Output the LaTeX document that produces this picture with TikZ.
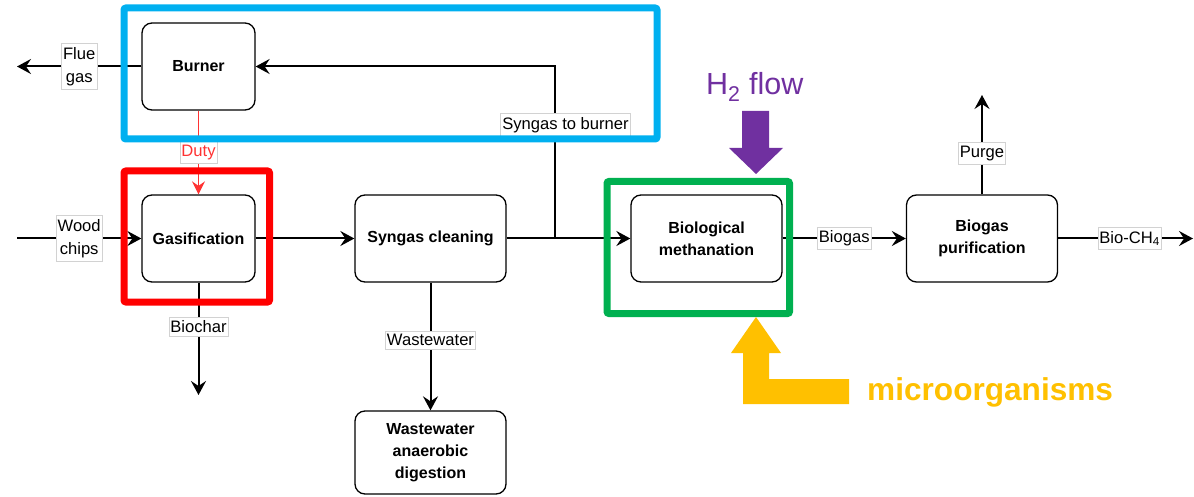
\documentclass[tikz,border=0pt]{standalone}
\usepackage{fontspec}
\setmainfont{Liberation Sans}
\usetikzlibrary{arrows.meta}
\definecolor{skyframe}{HTML}{00B0F0}
\definecolor{redframe}{HTML}{FF0000}
\definecolor{greenframe}{HTML}{00B050}
\definecolor{hpurple}{HTML}{7030A0}
\definecolor{microamber}{HTML}{FFC000}
\definecolor{dutyred}{HTML}{FF3333}

\begin{document}
\begin{tikzpicture}[x=1pt,y=-1pt,
    unit/.style={draw,rounded corners=10pt,line width=1.3pt,minimum width=113pt,minimum height=87pt,align=center,font=\fontsize{16}{22}\selectfont\bfseries},
    wideunit/.style={unit,minimum width=151pt},
    flow/.style={line width=2pt,-{Stealth[length=14pt,width=15pt,inset=5pt]}},
    duty/.style={line width=1.4pt,dutyred,-{Stealth[length=13pt,width=13pt,inset=4.5pt]}},
    lbl/.style={fill=white,draw=gray!35,line width=0.6pt,inner xsep=1.5pt,inner ysep=3.5pt,align=center,text=black,font=\fontsize{16.6}{23}\selectfont},
    frame/.style={line width=7pt,rounded corners=2pt}]
    \useasboundingbox (0,0) rectangle (1194,497);
    % process units
    \node[unit] (burner) at (198.5,66.5) {Burner};
    \node[unit] (gasif) at (198.5,238.5) {Gasification};
    \node[wideunit] (cleaning) at (430.5,238.5) {Syngas cleaning};
    \node[wideunit,minimum height=83pt] (wwad) at (430.5,452.5) {Wastewater\\anaerobic\\digestion};
    \node[wideunit] (biometh) at (706.5,238.5) {Biological\\methanation};
    \node[wideunit] (biopurif) at (982,238.5) {Biogas\\purification};
    % free ends
    \coordinate (fluegas) at (17,66.5);
    \coordinate (woodin) at (17,238.5);
    \coordinate (biochar) at (198.5,395);
    \coordinate (junction) at (555,238.5);
    \coordinate (turn) at (555,66.5);
    \coordinate (purge) at (982,95);
    \coordinate (bioch4) at (1193,238.5);
    % streams
    \draw[flow] (burner) -- node[lbl]{Flue\\gas} (fluegas);
    \draw[flow] (woodin) -- node[lbl]{Wood\\chips} (gasif);
    \draw[flow] (gasif) -- (cleaning);
    \draw[flow] (cleaning) -- (biometh);
    \draw[flow] (junction) -- node[lbl,pos=0.66,xshift=10.5pt]{Syngas to burner} (turn) -- (burner);
    \draw[duty] (burner) -- node[lbl,text=dutyred]{Duty} (gasif);
    \draw[flow] (gasif) -- node[lbl,pos=0.39]{Biochar} (biochar);
    \draw[flow] (cleaning) -- node[lbl,pos=0.45]{Wastewater} (wwad);
    \draw[flow] (biometh) -- node[lbl]{Biogas} (biopurif);
    \draw[flow] (biopurif) -- node[lbl,pos=0.41]{Purge} (purge);
    \draw[flow] (biopurif) -- node[lbl,pos=0.53]{Bio-CH\textsubscript{4}} (bioch4);
    % highlight frames
    \draw[frame,skyframe] (124,8) rectangle (657,139);
    \draw[frame,redframe] (124,171) rectangle (269.5,302);
    \draw[frame,greenframe] (607,181.5) rectangle (789.5,313.5);
    % hydrogen and microorganism inputs
    \fill[hpurple] (742,111) -- (769,111) -- (769,148) -- (783,148) -- (756,174) -- (729,148) -- (742,148) -- cycle;
    \node[anchor=base west,inner sep=0pt,text=hpurple,font=\fontsize{30.5}{32}\selectfont] (h2) at (706,95) {H\textsubscript{2} flow};
    \fill[microamber] (743,404) -- (849,404) -- (849,379) -- (769,379) -- (769,353) -- (781,353) -- (756,317) -- (731,353) -- (743,353) -- cycle;
    \node[anchor=base west,inner sep=0pt,text=microamber,font=\fontsize{31.6}{33}\selectfont\bfseries] (micro) at (867,400) {microorganisms};
\end{tikzpicture}
\end{document}
